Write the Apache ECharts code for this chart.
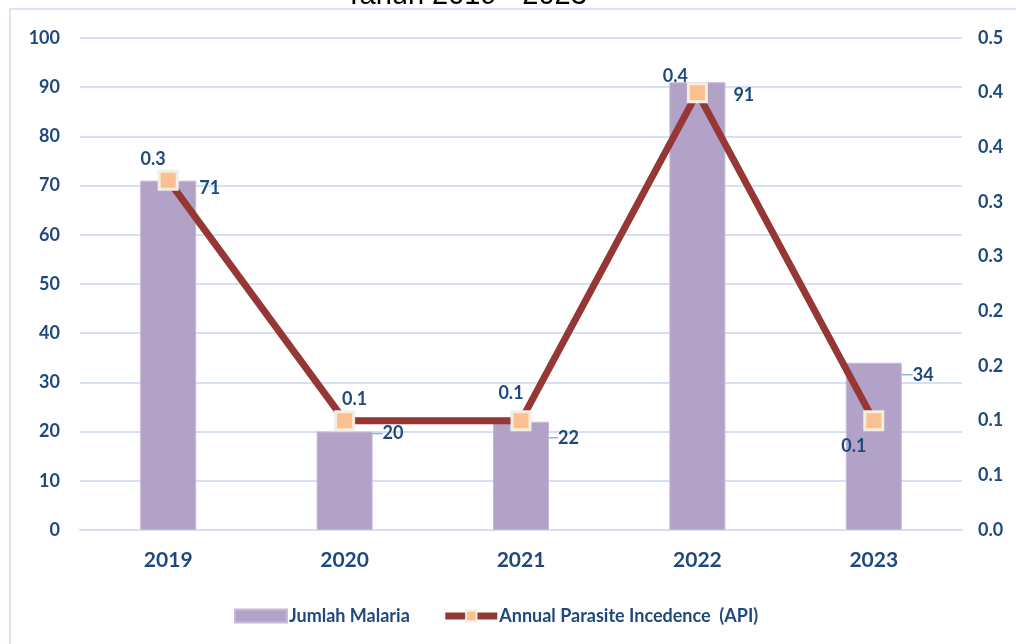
<!DOCTYPE html>
<html>
<head>
<meta charset="utf-8">
<script src="https://cdn.jsdelivr.net/npm/echarts@6/dist/echarts.min.js"></script>
<style>
  html, body { margin: 0; padding: 0; background: #ffffff; }
  #chart { width: 1016px; height: 644px; }
</style>
</head>
<body>
<div id="chart"></div>
<script>
// Malaria cases and API per year
const years = ['2019', '2020', '2021', '2022', '2023'];
const jumlahMalaria = [71, 20, 22, 91, 34];
const apiValues = [0.32, 0.10, 0.10, 0.40, 0.10];
const leftTickLabels = ['0', '10', '20', '30', '40', '50', '60', '70', '80', '90', '100'];
const rightTickLabels = ['0.0', '0.1', '0.1', '0.2', '0.2', '0.3', '0.3', '0.4', '0.4', '0.5'];
const titleText = 'Tahun 2019 - 2023';
const barName = 'Jumlah Malaria';
const lineName = 'Annual Parasite Incedence  (API)';

// label placement tweaks (pixels)
const barLabelOffsets = [[3, -1], [10, -7], [9, 7], [8, 4], [11, 3]];
const barLeader = [false, true, true, false, true];
const apiLabelOffsets = [[-15, 4], [10, 3], [-10, -3], [-22, 8], [-20, 50]];

const FONT = 'Lato, "Open Sans", sans-serif';
const TEXT = '#1f497d';
const GRID_LINE = '#d5e1f2';
const LINE_RED = '#953735';

const chart = echarts.init(document.getElementById('chart'), null, { renderer: 'canvas' });

const barData = jumlahMalaria.map((v, i) => ({
  value: v,
  label: { offset: barLabelOffsets[i] },
  labelLine: { show: barLeader[i] }
}));
const lineData = apiValues.map((v, i) => ({
  value: v,
  label: { offset: apiLabelOffsets[i] }
}));

chart.setOption({
  backgroundColor: '#ffffff',
  animation: false,
  textStyle: { fontFamily: FONT },
  graphic: [
    {
      type: 'rect', z: -10, silent: true,
      shape: { x: 10, y: 9, width: 1100, height: 700 },
      style: { fill: 'none', stroke: '#dae4f2', lineWidth: 2 }
    },
    {
      type: 'text', silent: true, z: 10,
      style: {
        x: 345, y: 10,
        text: titleText, fill: '#000000',
        fontSize: 29, fontFamily: '"Liberation Sans", Arial, sans-serif',
        verticalAlign: 'bottom', align: 'left'
      }
    }
  ],
  grid: { left: 80, right: 54, top: 38, bottom: 114, containLabel: false },
  legend: {
    left: 229, top: 602,
    itemGap: 32,
    itemWidth: 52, itemHeight: 13,
    textStyle: { fontFamily: FONT, fontWeight: 'bold', fontSize: 18, color: TEXT, padding: [0, 0, 0, -3] },
    data: [
      { name: barName, icon: 'rect' },
      { name: lineName, lineStyle: { width: 7, color: LINE_RED } }
    ]
  },
  xAxis: {
    type: 'category',
    data: years,
    axisTick: { show: false },
    axisLine: { lineStyle: { color: GRID_LINE, width: 2 } },
    axisLabel: { color: TEXT, fontWeight: 'bold', fontSize: 21, margin: 20, fontFamily: FONT }
  },
  yAxis: [
    {
      type: 'value', min: 0, max: 100, interval: 10,
      axisLine: { show: false }, axisTick: { show: false },
      splitLine: { lineStyle: { color: GRID_LINE, width: 2 } },
      axisLabel: {
        color: TEXT, fontWeight: 'bold', fontSize: 18, margin: 20, fontFamily: FONT,
        formatter: (v) => leftTickLabels[Math.round(v / 10)]
      }
    },
    {
      type: 'value', min: 0, max: 0.45, interval: 0.05,
      position: 'right',
      axisLine: { show: false }, axisTick: { show: false },
      splitLine: { show: false },
      axisLabel: {
        color: TEXT, fontWeight: 'bold', fontSize: 18, margin: 16, fontFamily: FONT,
        formatter: (v) => rightTickLabels[Math.round(v / 0.05)]
      }
    }
  ],
  series: [
    {
      name: barName,
      type: 'bar',
      data: barData,
      barWidth: 56,
      itemStyle: { color: '#b3a2c7', borderColor: '#c6b9d8', borderWidth: 1 },
      label: {
        show: true,
        position: ['100%', 0],
        color: TEXT, fontWeight: 'bold', fontSize: 18, fontFamily: FONT
      },
      labelLine: { show: false, lineStyle: { color: '#8eb4e3', width: 1.5 } },
      z: 2
    },
    {
      name: lineName,
      type: 'line',
      yAxisIndex: 1,
      data: lineData,
      symbol: 'rect',
      symbolSize: 18,
      lineStyle: { color: LINE_RED, width: 7 },
      itemStyle: { color: '#fac090', borderColor: '#f2eee2', borderWidth: 3 },
      label: {
        show: true,
        position: 'top',
        color: TEXT, fontWeight: 'bold', fontSize: 18, fontFamily: FONT,
        formatter: (p) => p.value.toFixed(1)
      },
      z: 3
    }
  ]
});
</script>
</body>
</html>
